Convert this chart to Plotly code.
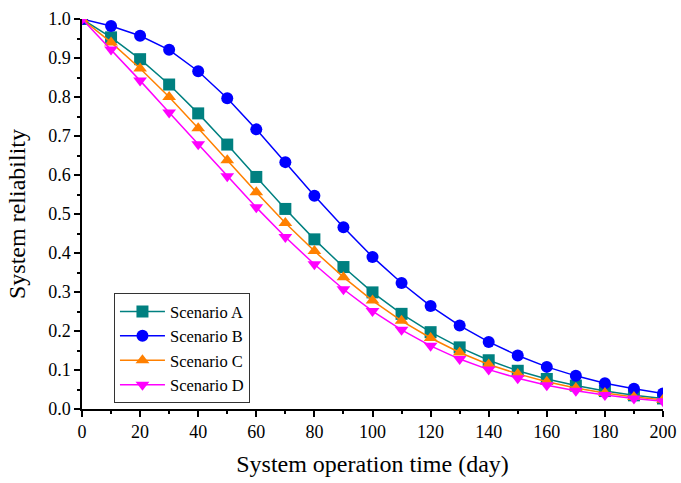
import plotly.graph_objects as go

days = [0, 10, 20, 30, 40, 50, 60, 70, 80, 90, 100, 110, 120, 130, 140, 150, 160, 170, 180, 190, 200]
scenario_a = [1.0, 0.953, 0.897, 0.832, 0.758, 0.678, 0.595, 0.513, 0.435, 0.364, 0.299, 0.244, 0.197, 0.158, 0.125, 0.098, 0.077, 0.060, 0.046, 0.035, 0.027]
scenario_b = [1.0, 0.982, 0.957, 0.921, 0.866, 0.797, 0.717, 0.633, 0.547, 0.466, 0.390, 0.323, 0.264, 0.214, 0.172, 0.137, 0.108, 0.085, 0.066, 0.052, 0.040]
scenario_c = [1.0, 0.940, 0.873, 0.800, 0.720, 0.638, 0.556, 0.477, 0.405, 0.338, 0.278, 0.226, 0.182, 0.145, 0.114, 0.090, 0.070, 0.054, 0.041, 0.031, 0.024]
scenario_d = [1.0, 0.922, 0.842, 0.760, 0.679, 0.597, 0.517, 0.441, 0.371, 0.307, 0.251, 0.203, 0.162, 0.128, 0.101, 0.079, 0.061, 0.047, 0.036, 0.027, 0.020]

series = [
    ("Scenario A", scenario_a, "#008080", "square"),
    ("Scenario B", scenario_b, "#0000FF", "circle"),
    ("Scenario C", scenario_c, "#FF8000", "triangle-up"),
    ("Scenario D", scenario_d, "#FF00FF", "triangle-down"),
]

fig = go.Figure()
for name, vals, color, sym in series:
    fig.add_trace(go.Scatter(
        x=days, y=vals, name=name, mode="lines+markers",
        line=dict(color=color, width=1.5),
        marker=dict(symbol=sym, size=12, color=color),
    ))

font_family = "Liberation Serif, Times New Roman, serif"
fig.update_layout(
    template="none",
    width=681, height=483,
    margin=dict(l=82, r=18, t=19, b=74),
    paper_bgcolor="white", plot_bgcolor="white",
    font=dict(family=font_family, color="black", size=18),
    showlegend=True,
    legend=dict(
        x=0.055, y=0.297, xanchor="left", yanchor="top",
        bordercolor="#333", borderwidth=1, bgcolor="white",
        font=dict(family=font_family, size=16.5), tracegroupgap=0, itemwidth=45,
    ),
    xaxis=dict(
        automargin=False,
        range=[0, 200], tick0=0, dtick=20, ticks="outside", ticklen=6, tickwidth=1.5, tickcolor="black",
        showline=True, linecolor="black", linewidth=1.5, showgrid=False, zeroline=False,
        minor=dict(ticks="outside", ticklen=3, dtick=10, tick0=0, tickcolor="black", tickwidth=1.5, showgrid=False),
        tickfont=dict(size=18), title=dict(text="System operation time (day)", font=dict(size=24), standoff=14),
    ),
    yaxis=dict(
        automargin=False,
        range=[0, 1.0], tick0=0, dtick=0.1, tickformat=".1f", ticks="outside", ticklen=6, tickwidth=1.5, tickcolor="black",
        showline=True, linecolor="black", linewidth=1.5, showgrid=False, zeroline=False,
        minor=dict(ticks="outside", ticklen=3, dtick=0.05, tick0=0, tickcolor="black", tickwidth=1.5, showgrid=False),
        tickfont=dict(size=18), title=dict(text="System reliability", font=dict(size=24), standoff=16),
    ),
)

fig.write_html("out.html")
